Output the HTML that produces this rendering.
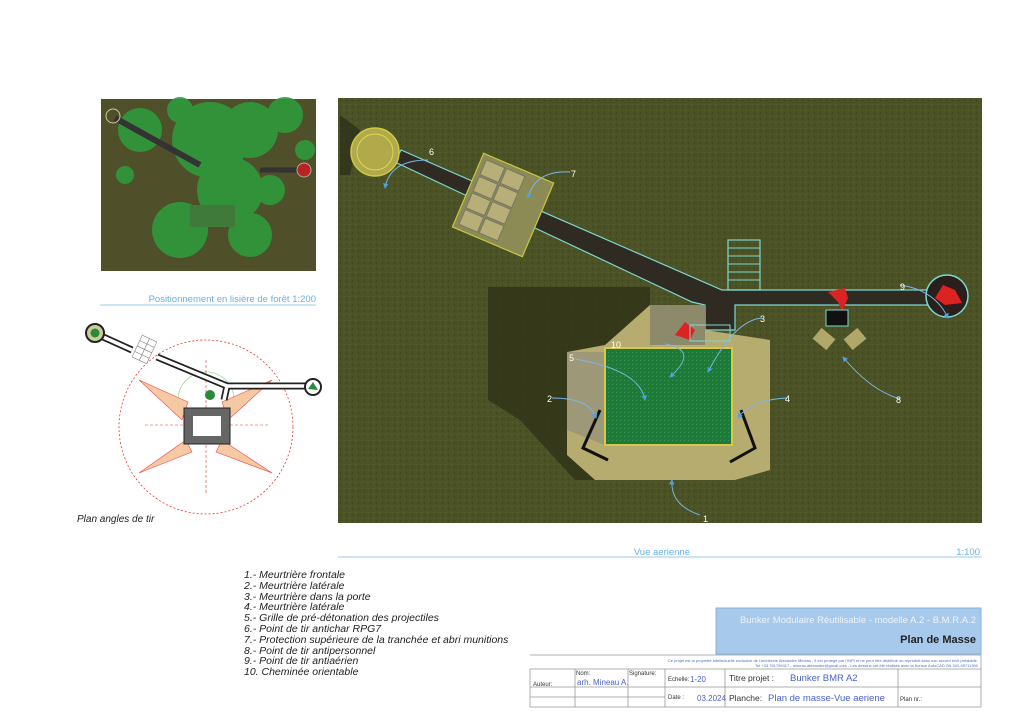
<!DOCTYPE html>
<html><head><meta charset="utf-8"><style>
body{margin:0;width:1024px;height:724px;background:#fff;position:relative;overflow:hidden;font-family:"Liberation Sans",sans-serif}
.a{position:absolute}
.leg{left:244px;top:570px;font-style:italic;font-size:10.5px;line-height:10.8px;color:#222}
</style></head><body>
<svg class="a" style="left:0;top:0" width="1024" height="724">
<defs>
<pattern id="g" width="6" height="6" patternUnits="userSpaceOnUse"><rect width="6" height="6" fill="#4b5226"/><rect x="1" y="2" width="2" height="1" fill="#575e2e"/><rect x="4" y="4" width="1" height="2" fill="#3f4620"/></pattern>
<pattern id="n" width="4" height="4" patternUnits="userSpaceOnUse"><rect width="4" height="4" fill="#1f7a3a"/><rect width="1" height="1" fill="#3a9a55"/></pattern>
<marker id="ar" markerWidth="6" markerHeight="6" refX="5" refY="3" orient="auto"><path d="M0,0L6,3L0,6z" fill="#4aa3e8"/></marker>
</defs>
<!-- top-left photo -->
<rect x="101" y="99" width="215" height="172" fill="#4f4f2a"/>
<g fill="#2f9a3c" opacity="0.9">
<circle cx="140" cy="130" r="22"/><circle cx="210" cy="140" r="38"/><circle cx="250" cy="130" r="28"/><circle cx="285" cy="115" r="18"/><circle cx="180" cy="110" r="13"/><circle cx="230" cy="190" r="33"/><circle cx="180" cy="230" r="28"/><circle cx="250" cy="235" r="22"/><circle cx="125" cy="175" r="9"/><circle cx="305" cy="150" r="10"/><circle cx="270" cy="190" r="15"/>
</g>
<rect x="190" y="205" width="45" height="22" fill="#3f7a3a"/>
<line x1="115" y1="118" x2="200" y2="165" stroke="#333" stroke-width="6"/>
<line x1="260" y1="170" x2="305" y2="170" stroke="#333" stroke-width="5"/>
<circle cx="304" cy="170" r="7" fill="#b22" stroke="#aaa"/>
<circle cx="113" cy="116" r="7" fill="none" stroke="#cc9"/>
<!-- left title -->
<line x1="100" y1="305" x2="316" y2="305" stroke="#bcdcf0" stroke-width="1.5"/>
<text x="316" y="302" font-size="9.5" fill="#6ab0e0" text-anchor="end">Positionnement en lisière de forêt   1:200</text>
<!-- fire angles diagram -->
<circle cx="206" cy="427" r="87" fill="none" stroke="#e33" stroke-width="0.8" stroke-dasharray="2,2"/>
<circle cx="206" cy="400" r="28" fill="none" stroke="#9d9" stroke-width="0.8"/>
<g fill="#f4c49a" stroke="#e33" stroke-width="0.6" opacity="0.9">
<polygon points="139,380 188,402 182,420"/><polygon points="272,380 222,402 228,420"/>
<polygon points="139,473 186,440 192,452"/><polygon points="272,473 222,440 216,452"/>
</g>
<line x1="145" y1="425" x2="268" y2="425" stroke="#e33" stroke-width="0.6" stroke-dasharray="3,2"/>
<line x1="206" y1="360" x2="206" y2="495" stroke="#e33" stroke-width="0.6" stroke-dasharray="3,2"/>
<rect x="184" y="408" width="46" height="36" fill="#666" stroke="#222"/>
<rect x="193" y="416" width="28" height="20" fill="#fff"/>
<g fill="none" stroke-linejoin="miter">
<path d="M101,336 L132,350 M157,357 L227,386 L313,386 M227,386 L224,400" stroke="#222" stroke-width="7"/>
<path d="M101,336 L132,350 M157,357 L227,386 L313,386 M227,386 L224,400" stroke="#fff" stroke-width="3.5"/>
</g>
<circle cx="95" cy="333" r="9" fill="#cc9" stroke="#222" stroke-width="2"/><circle cx="95" cy="333" r="4.5" fill="#2a8a3a"/>
<circle cx="313" cy="387" r="8" fill="#fff" stroke="#222" stroke-width="2"/><path d="M308,389 L313,382 L318,390z" fill="#2a8a3a"/>
<circle cx="210" cy="395" r="5" fill="#2a8a3a"/>
<g stroke="#888" fill="#fff" stroke-width="0.6" transform="rotate(25 145 353)"><rect x="135" y="338" width="8" height="6"/><rect x="143" y="338" width="8" height="6"/><rect x="135" y="344" width="8" height="6"/><rect x="143" y="344" width="8" height="6"/><rect x="135" y="350" width="8" height="6"/><rect x="143" y="350" width="8" height="6"/><rect x="135" y="356" width="8" height="6"/><rect x="143" y="356" width="8" height="6"/></g>
<text x="77" y="522" font-size="10" font-style="italic" fill="#222">Plan angles de tir</text>
<!-- main aerial -->
<rect x="338" y="98" width="644" height="425" fill="url(#g)"/>
<polygon points="488,287 650,287 650,480 575,480 520,420 488,400" fill="#2f3318" opacity="0.8"/>
<polygon points="340,115 360,130 350,175 340,175" fill="#2a2c18" opacity="0.7"/>
<polygon points="395,162 401,150 722,290 958,290 958,305 735,305 735,330 705,330 705,305 692,302" fill="#2f2a22" stroke="#7fd8d0" stroke-width="1.2"/>
<rect x="728" y="240" width="32" height="50" fill="none" stroke="#7fd8d0" stroke-width="1.2"/>
<g stroke="#7fd8d0" stroke-width="1"><line x1="728" y1="248" x2="760" y2="248"/><line x1="728" y1="256" x2="760" y2="256"/><line x1="728" y1="264" x2="760" y2="264"/><line x1="728" y1="272" x2="760" y2="272"/><line x1="728" y1="280" x2="760" y2="280"/></g>
<circle cx="375" cy="152" r="24" fill="#b2aa4a" stroke="#cccc44" stroke-width="1.5"/>
<circle cx="375" cy="152" r="18" fill="none" stroke="#dada55"/>
<g transform="rotate(23 503 205)"><rect x="465" y="165" width="76" height="80" fill="#8c8a55" stroke="#c8c840" stroke-width="1.2"/>
<g fill="#b7ae78" stroke="#776"><rect x="470" y="170" width="20" height="16"/><rect x="492" y="170" width="20" height="16"/><rect x="470" y="188" width="20" height="16"/><rect x="492" y="188" width="20" height="16"/><rect x="470" y="206" width="20" height="16"/><rect x="492" y="206" width="20" height="16"/><rect x="470" y="224" width="20" height="16"/><rect x="492" y="224" width="20" height="16"/></g></g>
<circle cx="947" cy="296" r="21" fill="#2a1f1a" stroke="#7fd8d0" stroke-width="1.5"/>
<path d="M935,298 L943,285 L955,290 L962,303 L945,305z" fill="#d22"/>
<path d="M828,292 L845,288 L848,298 L842,312 L838,302z" fill="#d22"/>
<rect x="826" y="310" width="22" height="16" fill="#111" stroke="#7fd8d0"/>
<rect x="815" y="332" width="18" height="14" fill="#b0a868" transform="rotate(40 824 339)"/>
<rect x="846" y="332" width="18" height="14" fill="#b0a868" transform="rotate(-40 855 339)"/>
<!-- bunker -->
<polygon points="567,352 605,345 650,305 705,305 705,330 770,340 770,470 735,480 595,480 567,455" fill="#b6ac70"/>
<rect x="650" y="305" width="55" height="40" fill="#8d8a6c"/>
<polygon points="567,352 605,352 605,445 567,430" fill="#9c9878"/>
<path d="M675,335 L685,322 L695,330 L690,340z" fill="#d22"/>
<rect x="690" y="325" width="40" height="16" fill="none" stroke="#7fd8d0"/>
<rect x="605" y="348" width="127" height="97" fill="url(#n)" stroke="#d6c84a" stroke-width="2"/>
<path d="M600,410 L583,448 L608,460 M741,410 L755,448 L730,462" stroke="#111" stroke-width="3" fill="none"/>
<!-- callouts -->
<g stroke="#7ab8e8" stroke-width="0.9" fill="none" marker-end="url(#ar)">
<path d="M428,160 Q390,160 385,188"/><path d="M570,172 Q535,170 528,198"/><path d="M762,318 Q735,320 708,372"/>
<path d="M575,359 Q640,370 645,400"/><path d="M665,344 Q700,350 670,377"/><path d="M552,398 Q590,398 596,418"/>
<path d="M787,398 Q750,400 738,418"/><path d="M700,515 Q670,505 672,480"/><path d="M900,399 Q870,390 843,357"/><path d="M900,285 Q935,290 948,318"/>
</g>
<g font-size="9" fill="#fff"><text x="429" y="155">6</text><text x="571" y="177">7</text><text x="760" y="322">3</text><text x="611" y="348">10</text><text x="569" y="361">5</text><text x="547" y="402">2</text><text x="785" y="402">4</text><text x="703" y="522">1</text><text x="896" y="403">8</text><text x="900" y="290">9</text></g>
<!-- main caption -->
<line x1="338" y1="557" x2="982" y2="557" stroke="#bcdcf0" stroke-width="1.5"/>
<text x="690" y="555" font-size="9.5" fill="#6ab0e0" text-anchor="end">Vue aerienne</text>
<text x="980" y="555" font-size="9.5" fill="#6ab0e0" text-anchor="end">1:100</text>
<!-- title block -->
<rect x="716" y="608" width="265" height="46" fill="#a7c9ec" stroke="#8bb2da"/>
<text x="976" y="623" font-size="9.5" fill="#eef4fb" text-anchor="end">Bunker Modulaire Réutilisable - modelle A.2 - B.M.R.A.2</text>
<text x="976" y="643" font-size="11" font-weight="bold" fill="#222" text-anchor="end">Plan de Masse</text>
<g stroke="#999" stroke-width="0.8" fill="none">
<line x1="530" y1="655" x2="981" y2="655"/><line x1="530" y1="669" x2="981" y2="669"/><line x1="530" y1="687" x2="981" y2="687"/><line x1="530" y1="707" x2="981" y2="707"/>
<line x1="530" y1="669" x2="530" y2="707"/><line x1="575" y1="669" x2="575" y2="707"/><line x1="628" y1="669" x2="628" y2="707"/><line x1="665" y1="669" x2="665" y2="707"/><line x1="725" y1="669" x2="725" y2="707"/><line x1="898" y1="669" x2="898" y2="707"/><line x1="981" y1="655" x2="981" y2="707"/>
<line x1="530" y1="697" x2="665" y2="697"/>
</g>
<text x="978" y="662" font-size="4" fill="#4f6fc0" text-anchor="end">Ce projet est la propriété intellectuelle exclusive de l'architecte Alexandre Mineau , il est protegé par l'INPI et ne peut être distribué ou reproduit sans son accord écrit préalable.</text>
<text x="978" y="667" font-size="4" fill="#4f6fc0" text-anchor="end">Tel +33 761799417 - mineau.alexandre@gmail.com - Les dessins ont été réalisés avec la licence AutoCAD SN 341-95711390</text>
<g font-size="6" fill="#333"><text x="576" y="675">Nom:</text><text x="629" y="675">Signature:</text><text x="533" y="686">Auteur:</text><text x="668" y="681">Echelle:</text><text x="668" y="699">Date :</text><text x="900" y="701">Plan nr.:</text></g>
<g font-size="8.5" fill="#333"><text x="729" y="681">Titre projet :</text><text x="729" y="701">Planche:</text></g>
<g fill="#4a62c4"><text x="577" y="685" font-size="8">arh. Mineau A.</text><text x="706" y="682" font-size="8" text-anchor="end">1-20</text><text x="697" y="701" font-size="8">03.2024</text><text x="790" y="681" font-size="9.5">Bunker  BMR A2</text><text x="768" y="701" font-size="9.5">Plan de masse-Vue aeriene</text></g>
</svg>
<div class="a leg">1.- Meurtrière frontale<br>2.- Meurtrière latérale<br>3.- Meurtrière dans la porte<br>4.- Meurtrière latérale<br>5.- Grille de pré-détonation des projectiles<br>6.- Point de tir antichar RPG7<br>7.- Protection supérieure de la tranchée et abri munitions<br>8.- Point de tir antipersonnel<br>9.- Point de tir antiaérien<br>10. Cheminée orientable</div>
</body></html>
